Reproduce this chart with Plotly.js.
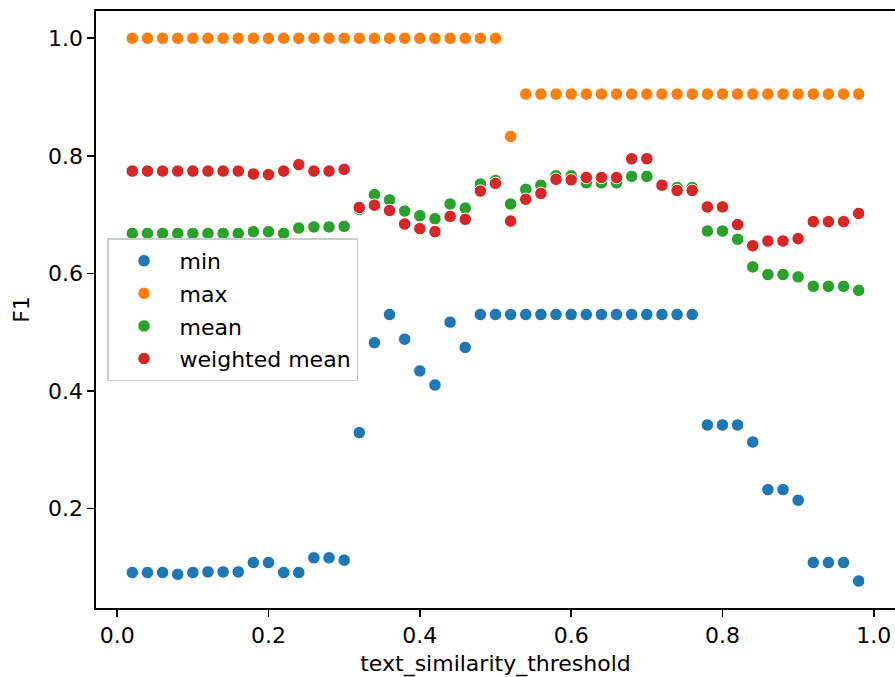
<!DOCTYPE html>
<html>
<head>
<meta charset="utf-8">
<script src="https://cdn.plot.ly/plotly-3.0.1.min.js"></script>
<style>html,body{margin:0;padding:0;background:#fff;}#chart{width:895px;height:677px;}</style>
</head>
<body>
<div id="chart"></div>
<script>
const thresholds = [0.02,0.04,0.06,0.08,0.10,0.12,0.14,0.16,0.18,0.20,0.22,0.24,0.26,0.28,0.30,0.32,0.34,0.36,0.38,0.40,0.42,0.44,0.46,0.48,0.50,0.52,0.54,0.56,0.58,0.60,0.62,0.64,0.66,0.68,0.70,0.72,0.74,0.76,0.78,0.80,0.82,0.84,0.86,0.88,0.90,0.92,0.94,0.96,0.98];

const minVals = [0.091,0.091,0.091,0.088,0.091,0.092,0.092,0.092,0.108,0.108,0.091,0.091,0.116,0.116,0.112,
  0.329,0.482,0.530,0.488,0.434,0.410,0.517,0.474,
  0.530,0.530,0.530,0.530,0.530,0.530,0.530,0.530,0.530,0.530,0.530,0.530,0.530,0.530,0.530,
  0.342,0.342,0.342,0.313,0.232,0.232,0.214,0.108,0.108,0.108,0.0765];

const maxVals = [1.0,1.0,1.0,1.0,1.0,1.0,1.0,1.0,1.0,1.0,1.0,1.0,1.0,1.0,1.0,1.0,1.0,1.0,1.0,1.0,1.0,1.0,1.0,1.0,1.0,
  0.833,
  0.905,0.905,0.905,0.905,0.905,0.905,0.905,0.905,0.905,0.905,0.905,0.905,0.905,0.905,0.905,0.905,0.905,0.905,0.905,0.905,0.905,0.905,0.905];

const meanVals = [0.668,0.668,0.668,0.668,0.668,0.668,0.668,0.668,0.671,0.671,0.668,0.677,0.679,0.679,0.680,
  0.709,0.734,0.725,0.706,0.698,0.693,0.718,0.711,0.752,0.758,0.718,0.743,0.750,0.766,0.766,0.754,0.754,0.754,0.765,0.765,0.749,0.746,0.746,
  0.672,0.672,0.658,0.611,0.598,0.598,0.594,0.578,0.578,0.578,0.571];

const wmeanVals = [0.774,0.774,0.774,0.774,0.774,0.774,0.774,0.774,0.769,0.768,0.774,0.785,0.774,0.774,0.777,
  0.712,0.716,0.707,0.684,0.676,0.671,0.697,0.692,0.740,0.753,0.689,0.726,0.736,0.760,0.759,0.763,0.763,0.763,0.795,0.795,0.750,0.741,0.741,
  0.713,0.713,0.683,0.647,0.655,0.655,0.659,0.688,0.688,0.688,0.702];

const seriesNames = ["min","max","mean","weighted mean"];
const seriesColors = ["#1f77b4","#ff7f0e","#2ca02c","#d62728"];
const seriesData = [minVals, maxVals, meanVals, wmeanVals];

const FONT = "DejaVu Sans, Liberation Sans, sans-serif";
const FS = 22;

const traces = seriesData.map((vals, i) => ({
  type: "scatter",
  mode: "markers",
  x: thresholds,
  y: vals,
  name: seriesNames[i],
  legendgroup: "g" + i,
  marker: {size: 12.5, color: seriesColors[i], line: {color: "#ffffff", width: 1}},
  hoverinfo: "x+y+name"
}));

const layout = {
  width: 895,
  height: 677,
  margin: {l: 96, r: 0, t: 11, b: 69, pad: 0},
  paper_bgcolor: "#ffffff",
  plot_bgcolor: "#ffffff",
  font: {family: FONT, size: FS, color: "#000000"},
  showlegend: true,
  legend: {
    x: 0.0138, y: 0.619, xanchor: "left", yanchor: "top",
    bgcolor: "rgba(255,255,255,0.8)",
    bordercolor: "#cccccc", borderwidth: 1.5,
    font: {family: FONT, size: FS, color: "#000000"},
    tracegroupgap: 1,
    itemwidth: 61
  },
  xaxis: {
    range: [-0.028, 1.028],
    tickvals: [0.0, 0.2, 0.4, 0.6, 0.8, 1.0],
    ticktext: ["0.0","0.2","0.4","0.6","0.8","1.0"],
    ticks: "outside", ticklen: 7, tickwidth: 1.6, tickcolor: "#000000",
    showline: true, linecolor: "#000000", linewidth: 1.6, mirror: true,
    showgrid: false, zeroline: false,
    tickfont: {family: FONT, size: FS, color: "#000000"},
    title: {text: "text_similarity_threshold", font: {family: FONT, size: FS, color: "#000000"}, standoff: 10}
  },
  yaxis: {
    range: [0.0306, 1.0464],
    tickvals: [0.2, 0.4, 0.6, 0.8, 1.0],
    ticktext: ["0.2","0.4","0.6","0.8","1.0"],
    ticks: "outside", ticklen: 7, tickwidth: 1.6, tickcolor: "#000000",
    showline: true, linecolor: "#000000", linewidth: 1.6, mirror: false,
    showgrid: false, zeroline: false,
    tickfont: {family: FONT, size: FS, color: "#000000"},
    title: {text: "F1", font: {family: FONT, size: FS, color: "#000000"}, standoff: 12}
  }
};

Plotly.newPlot("chart", traces, layout, {staticPlot: true, displayModeBar: false});
</script>
</body>
</html>
